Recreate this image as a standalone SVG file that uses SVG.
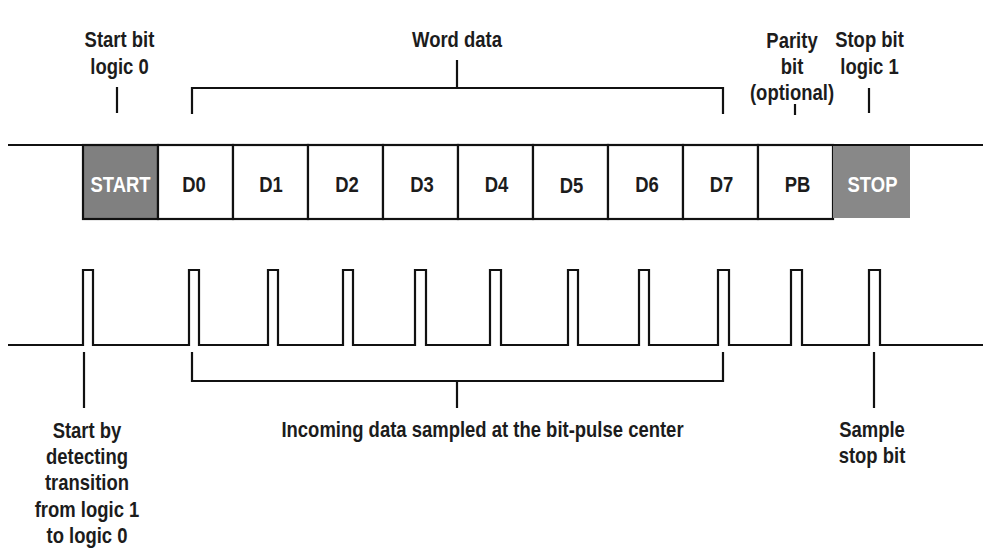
<svg xmlns="http://www.w3.org/2000/svg" width="993" height="552" viewBox="0 0 993 552">
<style>
.t{font-family:"Liberation Sans",Arial,sans-serif;font-weight:bold;font-size:22px;fill:#1c1c1c;text-anchor:middle}
.w{fill:#ffffff}
.ln{fill:none;stroke:#111;stroke-width:2.2;stroke-linejoin:miter;stroke-linecap:butt}
.cell{fill:#ffffff;stroke:#111;stroke-width:2.2}
.grey{fill:#808080;stroke:#111;stroke-width:2.2}
</style>
<rect width="993" height="552" fill="#ffffff"/>
<g id="connectors">
<path class="ln" d="M8,145 H83"/>
<path class="ln" d="M833,145 H983"/>
<path class="ln" d="M8,345 H83 V270 H93 V345 H189 V270 H199 V345 H268 V270 H278 V345 H343 V270 H353 V345 H415 V270 H426 V345 H490 V270 H501 V345 H568 V270 H578 V345 H639 V270 H649 V345 H718 V270 H729 V345 H791 V270 H802 V345 H869 V270 H880 V345 H983"/>
<path class="ln" d="M192,114 V88 H723 V114"/>
<path class="ln" d="M457,88 V60"/>
<path class="ln" d="M117,87 V113"/>
<path class="ln" d="M795,104 V115"/>
<path class="ln" d="M869,88 V113"/>
<path class="ln" d="M192,352 V381 H723 V352"/>
<path class="ln" d="M457,381 V408"/>
<path class="ln" d="M84,352 V408"/>
<path class="ln" d="M874,352 V408"/>
</g>
<g id="start"><rect class="grey" x="83" y="145" width="75" height="74"/><text class="t w" transform="translate(120.5,192) scale(0.84,1)">START</text></g>
<g id="d0"><rect class="cell" x="158" y="145" width="75" height="74"/><text class="t" transform="translate(194,192) scale(0.84,1)">D0</text></g>
<g id="d1"><rect class="cell" x="233" y="145" width="75" height="74"/><text class="t" transform="translate(271,192) scale(0.84,1)">D1</text></g>
<g id="d2"><rect class="cell" x="308" y="145" width="75" height="74"/><text class="t" transform="translate(347,192) scale(0.84,1)">D2</text></g>
<g id="d3"><rect class="cell" x="383" y="145" width="75" height="74"/><text class="t" transform="translate(422,192) scale(0.84,1)">D3</text></g>
<g id="d4"><rect class="cell" x="458" y="145" width="75" height="74"/><text class="t" transform="translate(496.5,192) scale(0.84,1)">D4</text></g>
<g id="d5"><rect class="cell" x="533" y="145" width="75" height="74"/><text class="t" transform="translate(571.5,193) scale(0.84,1)">D5</text></g>
<g id="d6"><rect class="cell" x="608" y="145" width="75" height="74"/><text class="t" transform="translate(647,192) scale(0.84,1)">D6</text></g>
<g id="d7"><rect class="cell" x="683" y="145" width="75" height="74"/><text class="t" transform="translate(721.5,192) scale(0.84,1)">D7</text></g>
<g id="pb"><rect class="cell" x="758" y="145" width="75" height="74"/><text class="t" transform="translate(797.5,192) scale(0.84,1)">PB</text></g>
<g id="stop"><rect x="833" y="146" width="77" height="72" fill="#888888"/><path class="ln" d="M833,145 H910"/><text class="t w" transform="translate(872.5,192) scale(0.84,1)">STOP</text></g>
<g id="label-start-bit"><text class="t" transform="translate(119.5,47) scale(0.84,1)"><tspan x="0" y="0">Start bit</tspan><tspan x="0" y="27">logic 0</tspan></text></g>
<g id="label-word-data"><text class="t" transform="translate(457,47) scale(0.84,1)">Word data</text></g>
<g id="label-parity"><text class="t" transform="translate(792,48) scale(0.84,1)"><tspan x="0" y="0">Parity</tspan><tspan x="0" y="26">bit</tspan><tspan x="0" y="52">(optional)</tspan></text></g>
<g id="label-stop-bit"><text class="t" transform="translate(869.5,47) scale(0.84,1)"><tspan x="0" y="0">Stop bit</tspan><tspan x="0" y="27">logic 1</tspan></text></g>
<g id="label-start-detect"><text class="t" transform="translate(87,438) scale(0.84,1)"><tspan x="0" y="0">Start by</tspan><tspan x="0" y="26">detecting</tspan><tspan x="0" y="52">transition</tspan><tspan x="0" y="79">from logic 1</tspan><tspan x="0" y="105">to logic 0</tspan></text></g>
<g id="label-incoming"><text class="t" transform="translate(482.5,437) scale(0.84,1)">Incoming data sampled at the bit-pulse center</text></g>
<g id="label-sample-stop"><text class="t" transform="translate(872,437) scale(0.84,1)"><tspan x="0" y="0">Sample</tspan><tspan x="0" y="26">stop bit</tspan></text></g>
</svg>
